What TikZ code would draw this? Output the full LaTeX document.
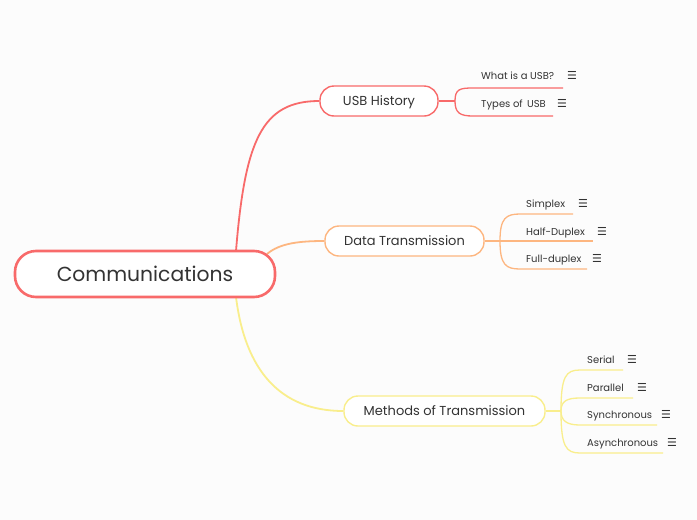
\documentclass[tikz,border=0pt]{standalone}
\usepackage{fontspec}
\setmainfont{Poppins}
\newfontfamily\symfont{DejaVu Sans}
\definecolor{cred}{RGB}{248,106,106}
\definecolor{corange}{RGB}{253,182,128}
\definecolor{cyellow}{RGB}{249,238,140}
\definecolor{ctext}{RGB}{51,51,51}
\definecolor{cbg}{RGB}{252,252,252}
\tikzset{
  rootbox/.style={draw=cred,line width=2.6pt,fill=white,rounded corners=21pt,minimum width=260pt,minimum height=46pt,inner sep=0pt,text=ctext,font=\fontsize{20.3}{24}\selectfont},
  topicbox/.style={line width=1.4pt,fill=white,rounded corners=14pt,minimum height=30pt,inner sep=0pt,text=ctext,font=\fontsize{13}{16}\selectfont},
  subtext/.style={anchor=base west,inner sep=0pt,text=ctext,font=\fontsize{10}{12}\selectfont},
  noteicon/.style={anchor=base west,inner sep=0pt,text=ctext,font=\symfont\fontsize{11}{13}\selectfont},
  mainlink/.style={line width=1.8pt},
  sublink/.style={line width=1.3pt},
}
\newcommand{\midtxt}[2]{\smash{\raisebox{#1}{#2}}}
\begin{document}
\begin{tikzpicture}[x=1pt,y=-1pt]
\fill[cbg] (0,0) rectangle (697,520);
\useasboundingbox (0,0) rectangle (697,520);

% main connectors (drawn first)
\coordinate (r1) at (236,251);
\coordinate (r2) at (267,254);
\coordinate (r3) at (236,297);
\node[topicbox,draw=cred,minimum width=118pt] (usb) at (379,101) {\midtxt{-4.6pt}{USB History}};
\node[topicbox,draw=corange,minimum width=159pt] (data) at (404.5,241) {\midtxt{-4.6pt}{Data Transmission}};
\node[topicbox,draw=cyellow,minimum width=201pt] (meth) at (444.5,411) {\midtxt{-4.6pt}{Methods of Transmission}};

\draw[mainlink,cred] (r1) .. controls (245,140) and (262,101) .. (usb.west);
\draw[mainlink,corange] (r2) .. controls (280,243) and (300,241) .. (data.west);
\draw[mainlink,cyellow] (r3) .. controls (245,370) and (280,411) .. (meth.west);

\node[rootbox] (root) at (145,274) {\midtxt{-7.2pt}{Communications}};

% USB History children
\coordinate (b1) at (455,101);
\node[subtext] (w) at (481,79.5) {What is a USB?};
\node[noteicon] (wi) at (567,79.5) {☰};
\node[subtext] (t) at (481,107.5) {Types of\, USB};
\node[noteicon] (ti) at (557,107.5) {☰};
\coordinate (wu) at (563,88);
\coordinate (tu) at (553,116);
\draw[sublink,cred] (usb.east) -- (b1);
\draw[sublink,cred] (b1) .. controls (455,89) and (460,88) .. (473,88) -- (wu);
\draw[sublink,cred] (b1) .. controls (455,113) and (460,116) .. (473,116) -- (tu);

% Data Transmission children
\coordinate (b2) at (500,241);
\node[subtext] (s) at (526,207) {Simplex};
\node[noteicon] (si) at (578,207) {☰};
\node[subtext] (h) at (526,235) {Half-Duplex};
\node[noteicon] (hi) at (597,235) {☰};
\node[subtext] (f) at (526,262) {Full-duplex};
\node[noteicon] (fi) at (592,262) {☰};
\coordinate (su) at (573,214);
\coordinate (hu) at (593,241);
\coordinate (fu) at (587,269);
\draw[sublink,corange] (data.east) -- (b2) -- (hu);
\draw[sublink,corange] (b2) .. controls (500,218) and (506,214) .. (520,214) -- (su);
\draw[sublink,corange] (b2) .. controls (500,265) and (506,269) .. (520,269) -- (fu);

% Methods children
\coordinate (b3) at (561,411);
\node[subtext] (se) at (587,363) {Serial};
\node[noteicon] (sei) at (627,363) {☰};
\node[subtext] (pa) at (587,391) {Parallel};
\node[noteicon] (pai) at (637,391) {☰};
\node[subtext] (sy) at (587,418) {Synchronous};
\node[noteicon] (syi) at (661,418) {☰};
\node[subtext] (as) at (587,446) {Asynchronous};
\node[noteicon] (asi) at (667,446) {☰};
\coordinate (seu) at (623,370);
\coordinate (pau) at (633,398);
\coordinate (syu) at (657,425);
\coordinate (asu) at (663,453);
\draw[sublink,cyellow] (meth.east) -- (b3);
\draw[sublink,cyellow] (b3) .. controls (561,376) and (566,370) .. (580,370) -- (seu);
\draw[sublink,cyellow] (b3) .. controls (561,401) and (567,398) .. (580,398) -- (pau);
\draw[sublink,cyellow] (b3) .. controls (561,421) and (567,425) .. (580,425) -- (syu);
\draw[sublink,cyellow] (b3) .. controls (561,447) and (566,453) .. (580,453) -- (asu);
\end{tikzpicture}
\end{document}
